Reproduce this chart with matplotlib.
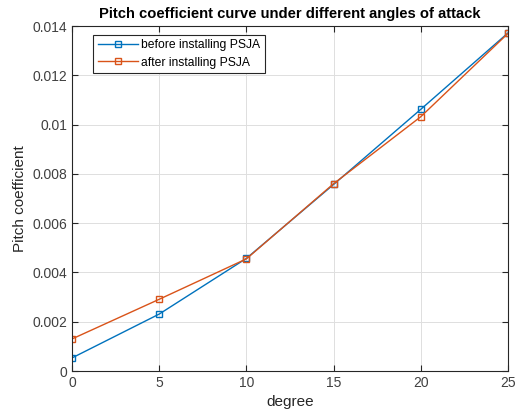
import matplotlib
matplotlib.use('Agg')
import matplotlib.pyplot as plt

# data
degree = [0, 5, 10, 15, 20, 25]
before_psja = [0.00053, 0.00231, 0.00457, 0.00757, 0.01062, 0.01372]
after_psja = [0.00130, 0.00291, 0.00455, 0.00760, 0.01032, 0.01370]
yticks = [0, 0.002, 0.004, 0.006, 0.008, 0.01, 0.012, 0.014]
ytick_labels = ['0', '0.002', '0.004', '0.006', '0.008', '0.01', '0.012', '0.014']

plt.rcParams['font.family'] = ['Liberation Sans', 'DejaVu Sans']

fig = plt.figure(figsize=(5.19, 4.17), dpi=100)
ax = fig.add_axes([0.1387, 0.1103, 0.8401, 0.8273])

ax.plot(degree, before_psja, color='#0072BD', marker='s', markersize=5,
        markerfacecolor='none', linewidth=1, label='before installing PSJA')
ax.plot(degree, after_psja, color='#D95319', marker='s', markersize=5,
        markerfacecolor='none', linewidth=1, label='after installing PSJA')

ax.set_xlim(0, 25)
ax.set_ylim(0, 0.014)
ax.set_xticks(degree)
ax.set_yticks(yticks)
ax.set_yticklabels(ytick_labels)
ax.grid(True, color='#dedede', linewidth=0.7)
ax.set_axisbelow(True)
ax.tick_params(direction='in', length=4, color='#262626', labelcolor='#404040',
               labelsize=10, top=True, right=True, labeltop=False, labelright=False)
for side in ax.spines.values():
    side.set_color('#262626')
    side.set_linewidth(0.8)

ax.set_xlabel('degree', fontsize=11, color='#262626')
ax.set_ylabel('Pitch coefficient', fontsize=11, color='#262626')
ax.set_title('Pitch coefficient curve under different angles of attack',
             fontsize=10.6, fontweight='bold', pad=6)

leg = ax.legend(loc='upper left', bbox_to_anchor=(0.048, 0.975), fontsize=8.7,
                fancybox=False, framealpha=1, edgecolor='#262626',
                borderaxespad=0, handlelength=3.3, handletextpad=0.25,
                borderpad=0.4, labelspacing=0.42)
leg.get_frame().set_linewidth(0.8)

fig.savefig('out.png', dpi=100)
